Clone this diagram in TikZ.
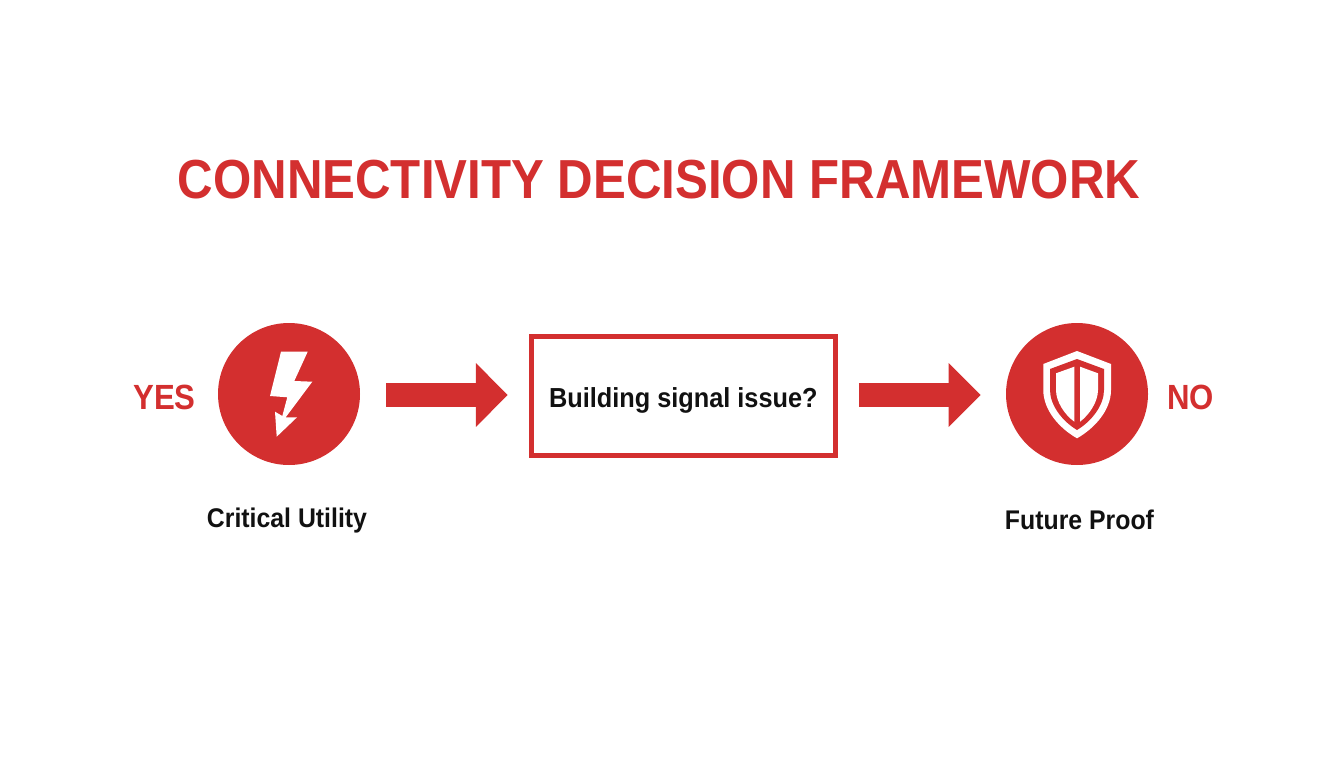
\documentclass[tikz,border=0pt]{standalone}
\usepackage{fontspec}
\setmainfont{Liberation Sans}
\newfontfamily\titlefont[FakeStretch=0.895]{Liberation Sans}
\newfontfamily\labelfont[FakeStretch=0.92]{Liberation Sans}
\newfontfamily\answerfont[FakeStretch=0.89]{Liberation Sans}
\usepackage{xcolor}
\definecolor{mainred}{HTML}{D32F2F}
\definecolor{textblack}{HTML}{111111}
\usetikzlibrary{arrows.meta}

\begin{document}
\begin{tikzpicture}[x=1pt, y=1pt, thick,
    main/.style = {circle, fill=mainred, minimum size=142pt, inner sep=0pt},
    question/.style = {draw=mainred, line width=5pt, fill=white, minimum width=304pt, minimum height=119pt, text height=22.4pt, text depth=0pt, font=\labelfont\fontsize{27.5}{32}\bfseries, text=textblack},
    answer/.style = {font=\answerfont\fontsize{35}{39}\bfseries, text=mainred},
    caption/.style = {font=\labelfont\fontsize{27}{31}\bfseries, text=textblack},
    flow/.style = {line width=24pt, draw=mainred, -{Triangle[length=32pt, width=62pt, fill=mainred]}}]

    \useasboundingbox (0,0) rectangle (1344,-768);

    \node[font=\titlefont\fontsize{55}{60}\bfseries, text=mainred] (title) at (659,-180) {CONNECTIVITY DECISION FRAMEWORK};

    \node[main] (1) at (289,-394) {};
    \node[question] (2) [right of=1, node distance=394.3pt, yshift=-2.3pt] {Building signal issue?};
    \node[main] (3) at (1077,-394) {};
    \node[answer] (yes) [left of=1, node distance=124.5pt, yshift=-3.3pt] {YES};
    \node[answer] (no) [right of=3, node distance=113.5pt, yshift=-3.3pt] {NO};
    \node[caption] (critical) [below of=1, node distance=126.3pt, xshift=-2pt] {Critical Utility};
    \node[caption] (future) [below of=3, node distance=125.7pt, xshift=2.5pt] {Future Proof};

    \coordinate (in1) at ([yshift=-1pt]1.east -| 2.west);
    \coordinate (out1) at ([yshift=-1pt]1.east);
    \coordinate (in2) at ([yshift=-1pt]3.west);
    \coordinate (out2) at ([yshift=-1pt]1.east -| 2.east);

    \draw[flow, shorten <=26pt, shorten >=21pt] (out1) -- (in1);
    \draw[flow, shorten <=21pt, shorten >=25pt] (out2) -- (in2);

    % bolt
    \fill[white] (281,-351.7) -- (307.7,-351.7) -- (294.3,-381) -- (312.3,-381.7) -- (285.7,-417.3) -- (297,-417.3)
        -- (276.7,-436.7) -- (275,-411.7) -- (282.3,-416) -- (287.3,-397.3) -- (270,-396) -- cycle;

    % shield
    \fill[white] (1077,-351) -- (1111,-364) -- (1111,-390) .. controls (1111,-410) and (1095,-428) .. (1077,-438.3)
        .. controls (1059,-428) and (1043.3,-410) .. (1043.3,-390) -- (1043.3,-364) -- cycle;
    \fill[mainred] (1077,-359) -- (1104,-369) -- (1104,-390) .. controls (1104,-405) and (1092,-421) .. (1077,-430)
        .. controls (1062,-421) and (1050,-405) .. (1050,-390) -- (1050,-369) -- cycle;
    \fill[white] (1074.3,-366.7) -- (1056,-373.3) -- (1056,-390) .. controls (1056,-402) and (1065,-415) .. (1074.3,-421.7) -- cycle;
    \fill[white] (1080,-366.7) -- (1098,-373.3) -- (1098,-390) .. controls (1098,-402) and (1089,-415) .. (1080,-421.7) -- cycle;
\end{tikzpicture}
\end{document}
